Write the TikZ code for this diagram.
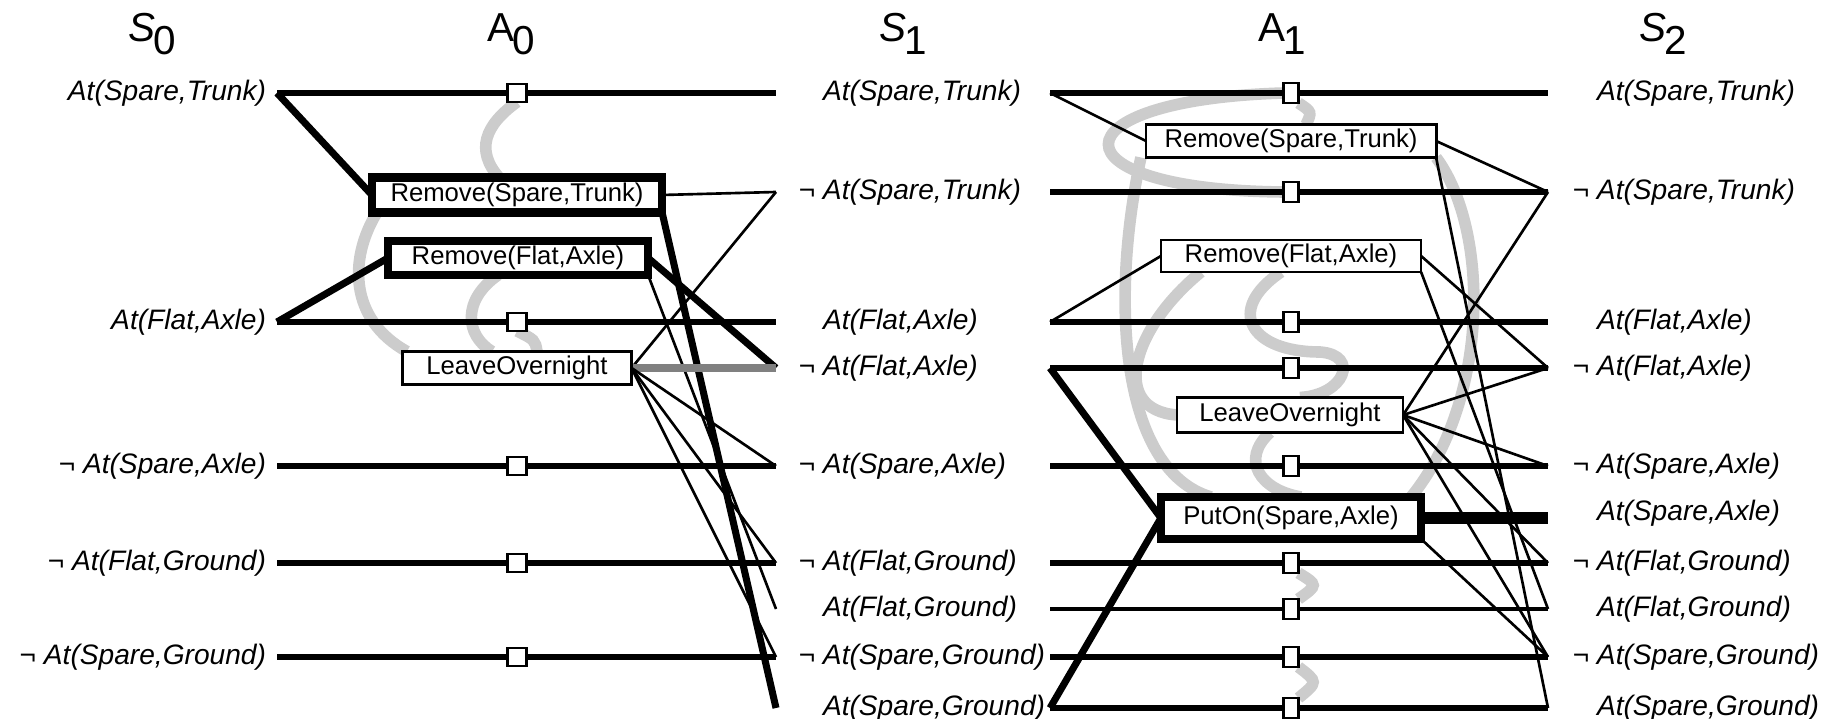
\documentclass[tikz,border=0pt]{standalone}
\usepackage{fontspec}
\setmainfont{Liberation Sans}
\pgfdeclarelayer{mutexlayer}
\pgfdeclarelayer{linelayer}
\pgfsetlayers{mutexlayer,linelayer,main}

\newcommand{\litfont}{\fontsize{8}{9}\selectfont\itshape}
\newcommand{\actfont}{\fontsize{7.3}{8}\selectfont}
\newcommand{\lvl}[2]{#1\kern-0.06em\raisebox{-0.6ex}{#2}}
\newcommand{\nt}{\llap{¬\ }}

\begin{document}
\begin{tikzpicture}[x=0.01cm, y=-0.01cm, outer sep=0pt]

\tikzstyle{layername}=[font=\fontsize{11.5}{13}\selectfont, inner sep=0pt]
\tikzstyle{litl}=[font=\litfont, inner sep=0pt, anchor=east]
\tikzstyle{litr}=[font=\litfont, inner sep=0pt, anchor=west]
\tikzstyle{noop}=[draw, fill=white, line width=0.8pt, inner sep=0pt, minimum width=0.19cm, minimum height=0.18cm]
\tikzstyle{noopb}=[noop, minimum width=0.15cm, minimum height=0.2cm]
\tikzstyle{action}=[draw, fill=white, line width=0.8pt, font=\actfont, inner sep=0pt, minimum height=0.33cm]
\tikzstyle{chosen}=[action, line width=2.5pt]
\tikzstyle{persist}=[line width=1.7pt]
\tikzstyle{persistthin}=[line width=1.1pt]
\tikzstyle{effect}=[line width=0.75pt]
\tikzstyle{strong}=[line width=2pt]
\tikzstyle{mutex}=[line width=3.3pt, black!20]

\useasboundingbox (0,0) rectangle (1830,719);

% level headers
\node[layername] (hs0) at (152,34) {\lvl{\textit{S}}{0}};
\node[layername] (ha0) at (511,34) {\lvl{A}{0}};
\node[layername] (hs1) at (903,34) {\lvl{\textit{S}}{1}};
\node[layername] (ha1) at (1282,34) {\lvl{A}{1}};
\node[layername] (hs2) at (1663,34) {\lvl{\textit{S}}{2}};

% S0
\node[litl] (l0ast) at (266,93) {At(Spare,Trunk)};
\node[litl] (l0afa) at (266,322) {At(Flat,Axle)};
\node[litl] (l0nsa) at (266,466) {¬\ At(Spare,Axle)};
\node[litl] (l0nfg) at (266,563) {¬\ At(Flat,Ground)};
\node[litl] (l0nsg) at (266,657) {¬\ At(Spare,Ground)};
\coordinate (c0ast) at (277,93); \coordinate (c0afa) at (277,322); \coordinate (c0nsa) at (277,466);
\coordinate (c0nfg) at (277,563); \coordinate (c0nsg) at (277,657);

% S1
\node[litr] (l1ast) at (823,93) {At(Spare,Trunk)};
\node[litr] (l1nst) at (823,192) {\nt At(Spare,Trunk)};
\node[litr] (l1afa) at (823,322) {At(Flat,Axle)};
\node[litr] (l1nfa) at (823,368) {\nt At(Flat,Axle)};
\node[litr] (l1nsa) at (823,466) {\nt At(Spare,Axle)};
\node[litr] (l1nfg) at (823,563) {\nt At(Flat,Ground)};
\node[litr] (l1afg) at (823,609) {At(Flat,Ground)};
\node[litr] (l1nsg) at (823,657) {\nt At(Spare,Ground)};
\node[litr] (l1asg) at (823,708) {At(Spare,Ground)};
\coordinate (e1ast) at (776,93); \coordinate (e1nst) at (776,192); \coordinate (e1afa) at (776,322);
\coordinate (e1nfa) at (776,368); \coordinate (e1nsa) at (776,466); \coordinate (e1nfg) at (776,563);
\coordinate (e1afg) at (776,609); \coordinate (e1nsg) at (776,657); \coordinate (e1asg) at (776,708);
\coordinate (o1ast) at (1050,93); \coordinate (o1nst) at (1050,192); \coordinate (o1afa) at (1050,322);
\coordinate (o1nfa) at (1050,368); \coordinate (o1nsa) at (1050,466); \coordinate (o1nfg) at (1050,563);
\coordinate (o1afg) at (1050,609); \coordinate (o1nsg) at (1050,657); \coordinate (o1asg) at (1050,708);

% S2
\node[litr] (l2ast) at (1597,93) {At(Spare,Trunk)};
\node[litr] (l2nst) at (1597,192) {\nt At(Spare,Trunk)};
\node[litr] (l2afa) at (1597,322) {At(Flat,Axle)};
\node[litr] (l2nfa) at (1597,368) {\nt At(Flat,Axle)};
\node[litr] (l2nsa) at (1597,466) {\nt At(Spare,Axle)};
\node[litr] (l2asa) at (1597,513) {At(Spare,Axle)};
\node[litr] (l2nfg) at (1597,563) {\nt At(Flat,Ground)};
\node[litr] (l2afg) at (1597,609) {At(Flat,Ground)};
\node[litr] (l2nsg) at (1597,657) {\nt At(Spare,Ground)};
\node[litr] (l2asg) at (1597,708) {At(Spare,Ground)};
\coordinate (e2ast) at (1548,93); \coordinate (e2nst) at (1548,192); \coordinate (e2afa) at (1548,322);
\coordinate (e2nfa) at (1548,368); \coordinate (e2nsa) at (1548,466); \coordinate (e2asa) at (1548,518);
\coordinate (e2nfg) at (1548,563); \coordinate (e2afg) at (1548,609); \coordinate (e2nsg) at (1548,657);
\coordinate (e2asg) at (1548,708);

% A0
\node[noop] (p0ast) at (517,93) {}; \node[noop] (p0afa) at (517,322) {}; \node[noop] (p0nsa) at (517,466) {};
\node[noop] (p0nfg) at (517,563) {}; \node[noop] (p0nsg) at (517,657) {};
\node[chosen, minimum width=2.9cm, minimum height=0.35cm] (rst0) at (517,195) {Remove(Spare,Trunk)};
\node[chosen, minimum width=2.6cm, minimum height=0.34cm] (rfa0) at (518,258) {Remove(Flat,Axle)};
\node[action, minimum width=2.29cm] (lo0) at (517,368) {LeaveOvernight};

% A1
\node[noopb] (p1ast) at (1291,93) {}; \node[noopb] (p1nst) at (1291,192) {}; \node[noopb] (p1afa) at (1291,322) {};
\node[noopb] (p1nfa) at (1291,368) {}; \node[noopb] (p1nsa) at (1291,466) {}; \node[noopb] (p1nfg) at (1291,563) {};
\node[noopb] (p1afg) at (1291,609) {}; \node[noopb] (p1nsg) at (1291,657) {}; \node[noopb] (p1asg) at (1291,708) {};
\node[action, minimum width=2.9cm] (rst1) at (1291,141) {Remove(Spare,Trunk)};
\node[action, minimum width=2.6cm, minimum height=0.32cm] (rfa1) at (1291,256) {Remove(Flat,Axle)};
\node[action, minimum width=2.26cm, minimum height=0.35cm] (lo1) at (1290,415) {LeaveOvernight};
\node[chosen, minimum width=2.6cm, minimum height=0.42cm] (put1) at (1291,518) {PutOn(Spare,Axle)};

\begin{pgfonlayer}{linelayer}
% persistence
\draw[persist] (c0ast) -- (p0ast) -- (e1ast); \draw[persist] (c0afa) -- (p0afa) -- (e1afa);
\draw[persist] (c0nsa) -- (p0nsa) -- (e1nsa); \draw[persist] (c0nfg) -- (p0nfg) -- (e1nfg);
\draw[persist] (c0nsg) -- (p0nsg) -- (e1nsg);
\draw[persist] (o1ast) -- (p1ast) -- (e2ast); \draw[persist] (o1nst) -- (p1nst) -- (e2nst);
\draw[persist] (o1afa) -- (p1afa) -- (e2afa); \draw[persist] (o1nfa) -- (p1nfa) -- (e2nfa);
\draw[persist] (o1nsa) -- (p1nsa) -- (e2nsa); \draw[persist] (o1nfg) -- (p1nfg) -- (e2nfg);
\draw[persistthin] (o1afg) -- (p1afg) -- (e2afg); \draw[persist] (o1nsg) -- (p1nsg) -- (e2nsg);
\draw[persist] (o1asg) -- (p1asg) -- (e2asg);
% preconditions
\draw[strong] (c0ast) -- (rst0.west); \draw[strong] (c0afa) -- (rfa0.west);
\draw[effect] (o1ast) -- (rst1.west); \draw[effect] (o1afa) -- (rfa1.west);
\draw[strong] (o1nfa) -- (put1.west); \draw[strong] (o1asg) -- (put1.west);
% effects A0
\draw[effect] (rst0.east) -- (e1nst); \draw[strong] (rst0.south east) -- (e1asg);
\draw[strong] (rfa0.east) -- (e1nfa); \draw[effect] (rfa0.south east) -- (e1afg);
\draw[effect] (lo0.east) -- (e1nst); \draw[line width=2pt, black!50] (lo0.east) -- (e1nfa);
\draw[effect] (lo0.east) -- (e1nsa); \draw[effect] (lo0.east) -- (e1nfg); \draw[effect] (lo0.east) -- (e1nsg);
% effects A1
\draw[effect] (rst1.east) -- (e2nst); \draw[effect] (rst1.south east) -- (e2asg);
\draw[effect] (rfa1.east) -- (e2nfa); \draw[effect] (rfa1.south east) -- (e2afg);
\draw[effect] (lo1.east) -- (e2nst); \draw[effect] (lo1.east) -- (e2nfa); \draw[effect] (lo1.east) -- (e2nsa);
\draw[effect] (lo1.east) -- (e2nfg); \draw[effect] (lo1.east) -- (e2nsg);
\draw[line width=3.4pt] (put1.east) -- (e2asa); \draw[effect] (put1.south east) -- (e2nsg);
\end{pgfonlayer}

\begin{pgfonlayer}{mutexlayer}
% mutex links A0
\draw[mutex] (p0ast.south) .. controls (485,125) and (475,150) .. ([xshift=-0.18cm]rst0.north);
\draw[mutex] ([xshift=-1.4cm]rst0.south) .. controls (348,260) and (350,320) .. ([xshift=-1.1cm]lo0.north);
\draw[mutex] ([xshift=-0.2cm]rfa0.south) .. controls (462,300) and (465,335) .. ([xshift=-0.25cm]lo0.north);
\draw[mutex] (p0afa.south) .. controls (535,340) .. ([xshift=0.2cm]lo0.north);
% mutex links A1
\draw[mutex] (p1ast.west) .. controls (1050,100) and (1050,190) .. (p1nst.west);
\draw[mutex] (p1ast.south east) .. controls (1312,112) .. ([xshift=0.15cm]rst1.north);
\draw[mutex] ([xshift=-1.5cm]rst1.south) .. controls (1110,300) and (1120,470) .. ([xshift=-0.8cm]put1.north);
\draw[mutex] ([xshift=-0.9cm]rfa1.south) .. controls (1130,330) and (1110,410) .. (lo1.west);
\draw[mutex] ([xshift=-0.1cm]rfa1.south) .. controls (1225,310) and (1250,352) .. (1320,352)
  .. controls (1360,355) and (1345,395) .. ([xshift=0.1cm]lo1.north);
\draw[mutex] ([xshift=-0.2cm]lo1.south) .. controls (1240,460) and (1260,490) .. ([xshift=0.1cm]put1.north);
\draw[mutex] (rst1.south east) .. controls (1490,230) and (1490,400) .. ([xshift=1.2cm]put1.north);
\draw[mutex] (p1nfg.south east) .. controls (1318,585) .. (p1afg.north east);
\draw[mutex] (p1nsg.south east) .. controls (1318,682) .. (p1asg.north east);
\end{pgfonlayer}

\end{tikzpicture}
\end{document}
